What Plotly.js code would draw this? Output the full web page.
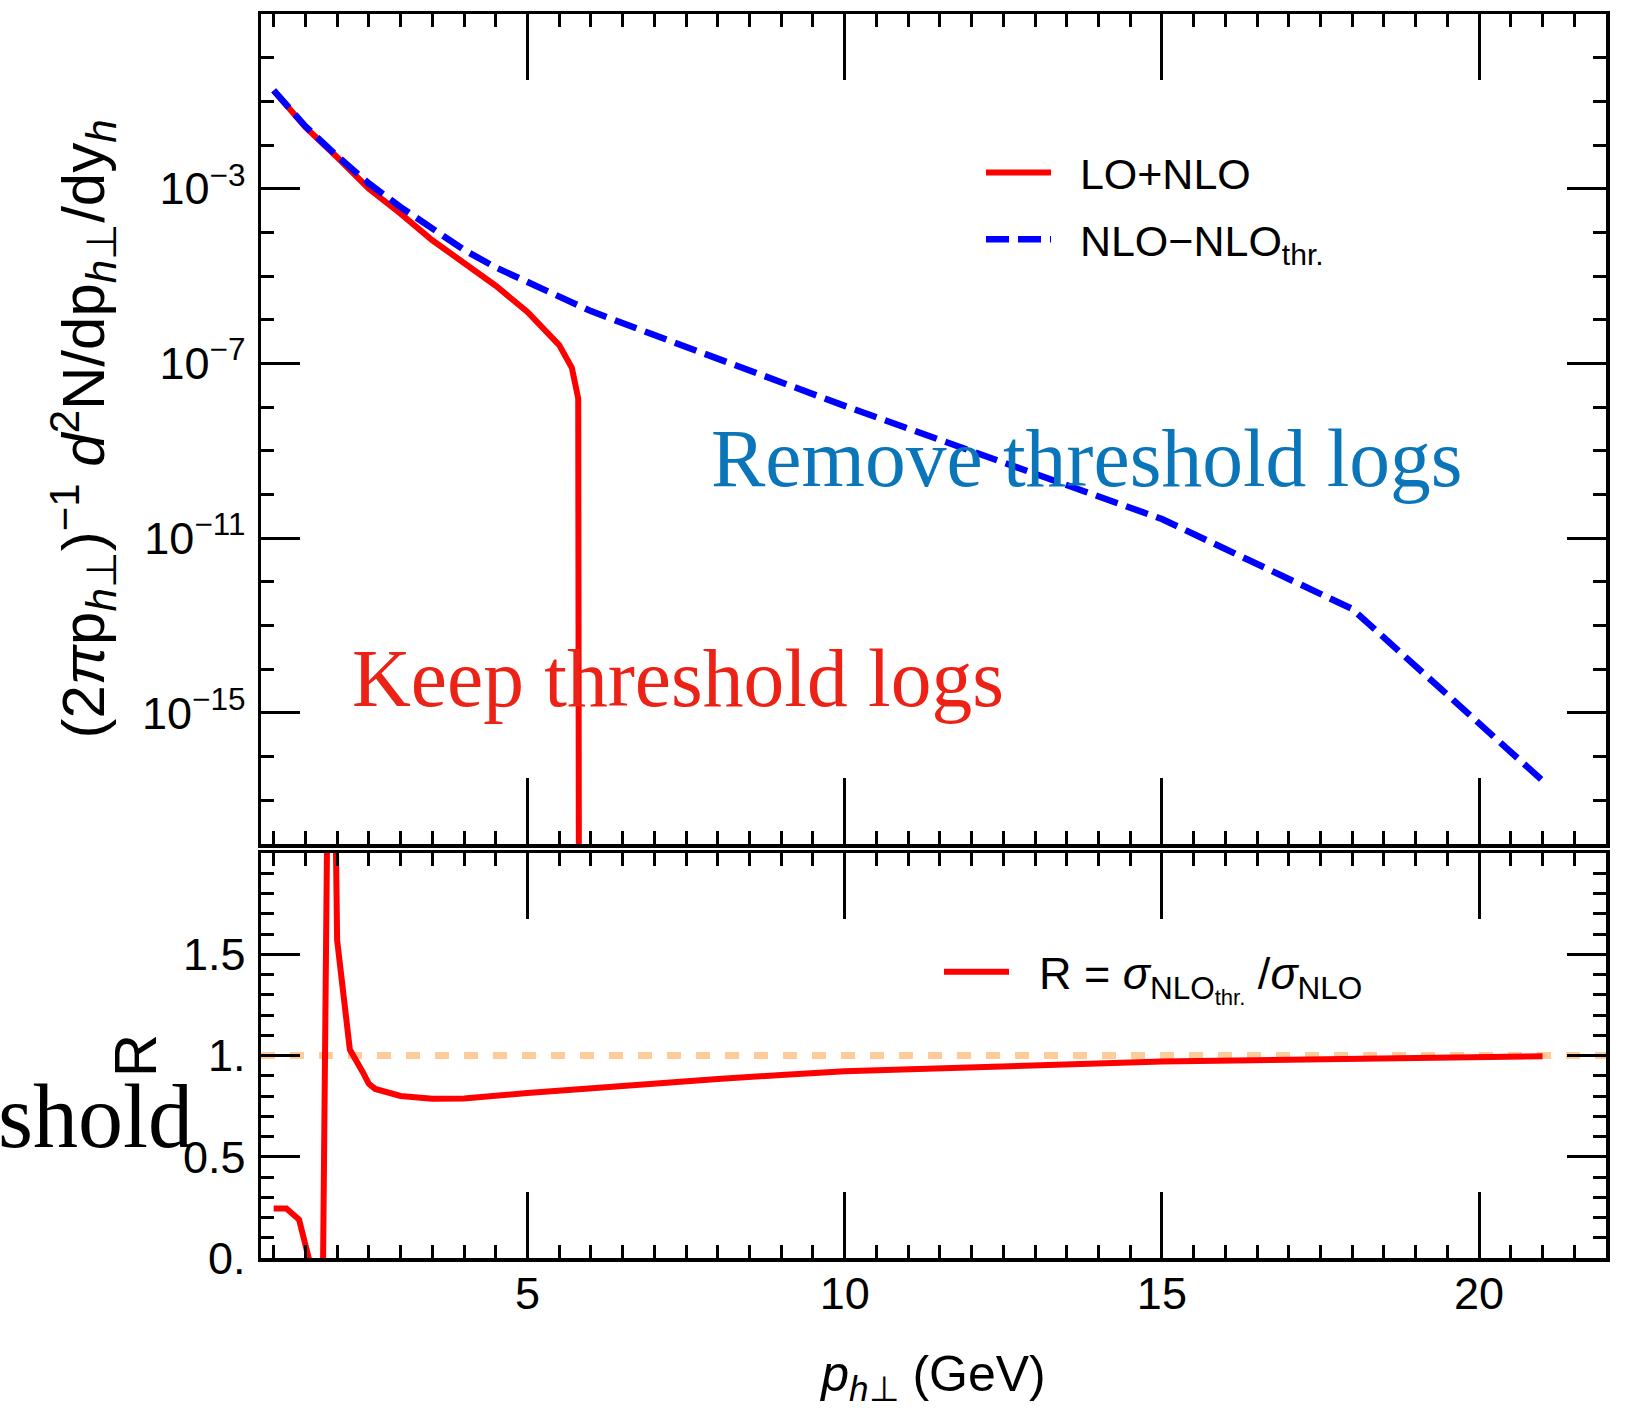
<!DOCTYPE html>
<html>
<head>
<meta charset="utf-8">
<script src="https://cdn.plot.ly/plotly-3.0.1.min.js"></script>
<style>html,body{margin:0;padding:0;background:#fff;}</style>
</head>
<body>
<div id="chart" style="width:1641px;height:1408px;"></div>
<script>
// ---- data ----
// top panel, LO+NLO (solid red)
const ptLoNlo = [1.0, 1.5, 2.0, 2.5, 3.0, 3.5, 4.0, 4.5, 5.0, 5.5, 5.7, 5.8, 5.83];
const yLoNlo  = [1.78e-1, 2.57e-2, 5.25e-3, 1.0e-3, 2.69e-4, 6.61e-5, 2.0e-5, 6.03e-6, 1.51e-6, 2.63e-7, 7.94e-8, 1.58e-8, 1e-40];
// top panel, NLO - NLO_thr (dashed blue)
const ptNloSub = [1.0, 1.5, 2.0, 2.5, 3.0, 3.5, 4.0, 4.5, 5.0, 6.0, 7.0, 8.0, 9.0, 10.0, 15.0, 18.0, 21.0];
const yNloSub  = [1.78e-1, 2.69e-2, 5.62e-3, 1.32e-3, 3.80e-4, 1.20e-4, 3.98e-5, 1.58e-5, 7.24e-6, 1.58e-6, 4.47e-7, 1.32e-7, 3.80e-8, 1.07e-8, 2.75e-11, 2.40e-13, 2.82e-17];
// bottom panel, ratio R
const ptRatio = [1.0, 1.2, 1.4, 1.6, 1.7, 1.9, 2.0, 2.2, 2.4, 2.5, 2.6, 3.0, 3.5, 4.0, 5.0, 6.0, 7.0, 8.0, 9.0, 10.0, 15.0, 18.0, 21.0];
const rRatio  = [0.245, 0.245, 0.19, -0.06, -2.6, 4.0, 1.57, 1.03, 0.92, 0.86, 0.835, 0.80, 0.786, 0.788, 0.815, 0.84, 0.862, 0.884, 0.904, 0.922, 0.97, 0.985, 0.996];
const referenceR = 1;

// tick labels
const xTickVals = [5, 10, 15, 20];
const yTopTickVals = [1e-3, 1e-7, 1e-11, 1e-15];
const yTopTickText = ['10<sup>−3</sup>', '10<sup>−7</sup>', '10<sup>−11</sup>', '10<sup>−15</sup>'];
const yTopMinorVals = [];
for (let e = -18; e <= 1; e++) yTopMinorVals.push(Math.pow(10, e));
const yBotTickVals = [0, 0.5, 1, 1.5];
const yBotTickText = ['0.', '0.5', '1.', '1.5'];

const NB = '\u00a0\u00a0';
const seriesNames = [NB + 'LO+NLO', NB + 'NLO−NLO<sub>thr.</sub>', NB + 'R = <i>σ</i><sub>NLO<sub>thr.</sub></sub> /<i>σ</i><sub>NLO</sub>'];

// ---- layout helpers ----
const W = 1641, H = 1408;
const M = {l: 261, r: 35, t: 14, b: 150};
const PW = W - M.l - M.r, PH = H - M.t - M.b;
const px = v => (v - M.l) / PW;
const py = v => (H - M.b - v) / PH;

const SANS = 'Liberation Sans, Arial, sans-serif';
const SERIF = 'Liberation Serif, Times New Roman, serif';

const traces = [
  {x: ptLoNlo, y: yLoNlo, xaxis: 'x', yaxis: 'y', type: 'scatter', mode: 'lines',
   name: seriesNames[0], legend: 'legend', legendgroup: 'a',
   line: {color: '#ff0000', width: 6}},
  {x: ptNloSub, y: yNloSub, xaxis: 'x', yaxis: 'y', type: 'scatter', mode: 'lines',
   name: seriesNames[1], legend: 'legend', legendgroup: 'b',
   line: {color: '#0000ff', width: 6.5, dash: '23px,9px'}},
  {x: ptRatio, y: rRatio, xaxis: 'x2', yaxis: 'y2', type: 'scatter', mode: 'lines',
   name: seriesNames[2], legend: 'legend2',
   line: {color: '#ff0000', width: 6}}
];

const frame = {
  showline: true, linecolor: '#000', linewidth: 3.5, mirror: 'allticks',
  ticks: 'inside', tickcolor: '#000', tickwidth: 3,
  showgrid: false, zeroline: false,
  tickfont: {family: SANS, size: 45, color: '#000'}
};

const layout = {
  width: W, height: H,
  margin: M,
  paper_bgcolor: '#fff', plot_bgcolor: '#fff',
  showlegend: true, hovermode: false,
  xaxis: Object.assign({}, frame, {
    domain: [0, 1], anchor: 'y', range: [0.8, 22],
    tickmode: 'array', tickvals: xTickVals, ticklen: 66, showticklabels: false,
    minor: {tickmode: 'linear', tick0: 0, dtick: 0.5, ticklen: 13, tickwidth: 3, tickcolor: '#000', ticks: 'inside', showgrid: false}
  }),
  yaxis: Object.assign({}, frame, {
    domain: [py(844), 1], anchor: 'x', type: 'log', range: [-18, 1],
    tickmode: 'array', tickvals: yTopTickVals, ticktext: yTopTickText, ticklen: 39,
    ticklabelstandoff: 3,
    minor: {tickmode: 'array', tickvals: yTopMinorVals, ticklen: 13, tickwidth: 3, tickcolor: '#000', ticks: 'inside', showgrid: false},
    title: {text: '(2<i>π</i>p<sub><i>h</i>⊥</sub>)<sup>−1</sup> <i>d</i><sup>2</sup>N/dp<sub><i>h</i>⊥</sub>/dy<sub><i>h</i></sub>',
            font: {family: SANS, size: 60, color: '#000'}, standoff: 19}
  }),
  xaxis2: Object.assign({}, frame, {
    domain: [0, 1], anchor: 'y2', matches: 'x', range: [0.8, 22],
    tickmode: 'array', tickvals: xTickVals, ticklen: 66, showticklabels: true,
    ticklabelstandoff: -7,
    minor: {tickmode: 'linear', tick0: 0, dtick: 0.5, ticklen: 13, tickwidth: 3, tickcolor: '#000', ticks: 'inside', showgrid: false},
    title: {text: '<i>p</i><sub><i>h</i>⊥</sub> (GeV)', font: {family: SANS, size: 50, color: '#000'}, standoff: 49}
  }),
  yaxis2: Object.assign({}, frame, {
    domain: [0, py(853)], anchor: 'x2', range: [0, 2],
    tickmode: 'array', tickvals: yBotTickVals, ticktext: yBotTickText, ticklen: 39,
    ticklabelstandoff: 3,
    minor: {tickmode: 'linear', tick0: 0, dtick: 0.1, ticklen: 13, tickwidth: 3, tickcolor: '#000', ticks: 'inside', showgrid: false},
    title: {text: 'R', font: {family: SANS, size: 60, color: '#000'}, standoff: 8}
  }),
  legend: {
    x: px(981), y: py(138), xanchor: 'left', yanchor: 'top',
    bgcolor: 'rgba(0,0,0,0)', borderwidth: 0, itemwidth: 65, tracegroupgap: 8,
    font: {family: SANS, size: 43, color: '#000'}
  },
  legend2: {
    x: px(939), y: py(936), xanchor: 'left', yanchor: 'top',
    bgcolor: 'rgba(0,0,0,0)', borderwidth: 0, itemwidth: 65,
    font: {family: SANS, size: 45, color: '#000'}
  },
  shapes: [
    {type: 'line', layer: 'below', xref: 'x2 domain', yref: 'y2', x0: 0, x1: 1, y0: referenceR, y1: referenceR,
     line: {color: 'rgba(255,204,153,1)', width: 7, dash: '14px,15px'}}
  ],
  annotations: [
    {text: 'Remove threshold logs', xref: 'paper', yref: 'paper', x: px(709), y: py(458),
     xanchor: 'left', yanchor: 'middle', showarrow: false,
     font: {family: SERIF, size: 81.5, color: 'rgb(10,118,185)'}},
    {text: 'Keep threshold logs', xref: 'paper', yref: 'paper', x: px(350), y: py(678),
     xanchor: 'left', yanchor: 'middle', showarrow: false,
     font: {family: SERIF, size: 81.5, color: 'rgb(237,34,22)'}},
    {text: 'threshold', xref: 'paper', yref: 'paper', x: px(195), y: py(1116),
     xanchor: 'right', yanchor: 'middle', showarrow: false,
     font: {family: SERIF, size: 90, color: '#000'}}
  ]
};

Plotly.newPlot('chart', traces, layout, {displayModeBar: false, staticPlot: true});
</script>
</body>
</html>
